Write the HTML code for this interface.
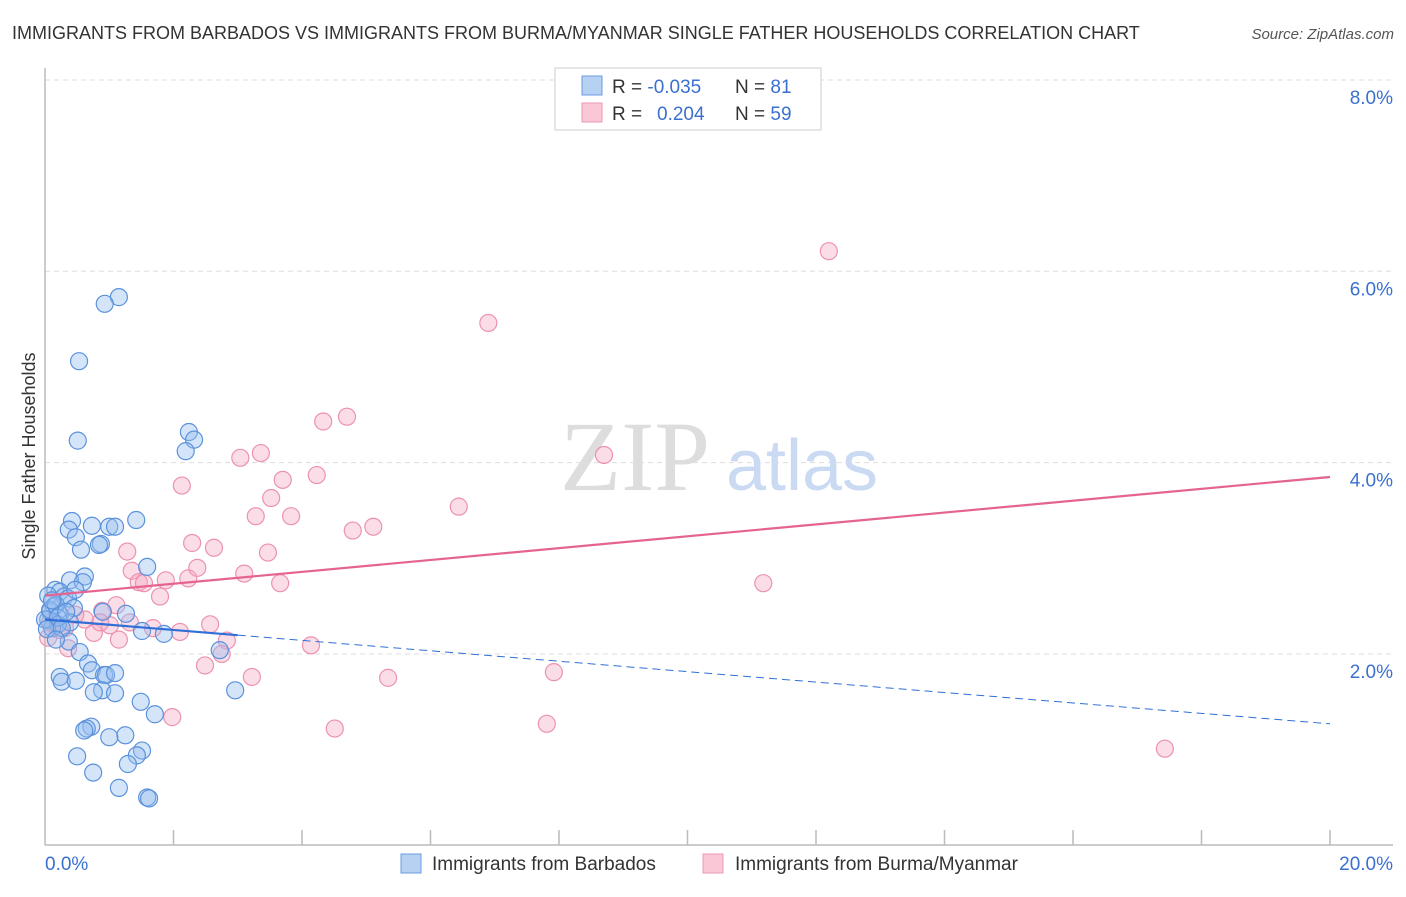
<!DOCTYPE html>
<html><head><meta charset="utf-8"><style>
body{margin:0;background:#fff;font-family:"Liberation Sans",sans-serif}
svg text{font-family:"Liberation Sans",sans-serif}
</style></head><body>
<svg width="1406" height="892" viewBox="0 0 1406 892" xmlns="http://www.w3.org/2000/svg">
<text x="12" y="39" font-size="18" fill="#333">IMMIGRANTS FROM BARBADOS VS IMMIGRANTS FROM BURMA/MYANMAR SINGLE FATHER HOUSEHOLDS CORRELATION CHART</text>
<text x="1394" y="39" font-size="15" fill="#555" text-anchor="end" font-style="italic">Source: ZipAtlas.com</text>
<text x="35" y="456" font-size="18" fill="#333" text-anchor="middle" transform="rotate(-90 35 456)">Single Father Households</text>
<g id="grid"></g>
<g id="yticks"></g>
<line x1="45" y1="68" x2="45" y2="845" stroke="#bbb" stroke-width="1.5"/>
<line x1="45" y1="845" x2="1393" y2="845" stroke="#bbb" stroke-width="1.5"/>
<g id="xticks"></g>
<text x="45" y="870" font-size="19" fill="#3a70d0">0.0%</text>
<text x="1393" y="870" font-size="19" fill="#3a70d0" text-anchor="end">20.0%</text>
<g>
<text x="635" y="490" font-size="100" fill="#ddd" text-anchor="middle" font-family="Liberation Serif,serif" style="font-family:'Liberation Serif',serif">ZIP</text>
<text x="802" y="490" font-size="72" fill="#c9daf2" text-anchor="middle">atlas</text>
</g>
<g id="pts"></g>
<g id="lines"></g>
<g>
<rect x="555" y="68" width="266" height="62" fill="#fff" stroke="#ccc"/>
<rect x="582" y="76" width="20" height="19" fill="#b7d1f3" stroke="#6a9be0"/>
<rect x="582" y="103" width="20" height="19" fill="#f9c7d5" stroke="#ec9ab3"/>
<text x="612" y="93" font-size="19" fill="#333">R = <tspan fill="#3a70d0">-0.035</tspan></text>
<text x="735" y="93" font-size="19" fill="#333">N = <tspan fill="#3a70d0">81</tspan></text>
<text x="612" y="120" font-size="19" fill="#333">R = <tspan fill="#3a70d0" x="657">0.204</tspan></text>
<text x="735" y="120" font-size="19" fill="#333">N = <tspan fill="#3a70d0">59</tspan></text>
</g>
<g>
<rect x="401" y="854" width="20" height="19" fill="#b7d1f3" stroke="#6a9be0"/>
<text x="432" y="870" font-size="19" fill="#333">Immigrants from Barbados</text>
<rect x="703" y="854" width="20" height="19" fill="#f9c7d5" stroke="#ec9ab3"/>
<text x="735" y="870" font-size="19" fill="#333">Immigrants from Burma/Myanmar</text>
</g>
</svg>
<script>
const yTicks=[2,4,6,8];
const yTickLabels=["2.0%","4.0%","6.0%","8.0%"];
const xTicks=[1,2,3,4,5,6,7,8,9,10];
const blueX=[1.15,0.93,0.53,0.51,2.24,2.32,2.19,1.42,0.42,0.37,0.73,1.00,1.09,0.48,0.87,0.84,0.56,1.59,0.62,0.39,0.59,0.16,0.23,0.05,0.30,0.36,0.14,0.45,0.90,1.26,0.08,0.23,0.05,0.39,0.20,0.11,1.51,1.85,0.37,0.54,2.72,0.67,0.73,0.92,0.95,1.09,0.23,0.26,0.48,0.89,0.76,1.09,2.96,1.49,1.71,0.72,0.65,0.61,1.25,1.00,1.51,1.43,0.50,1.29,0.75,1.15,1.59,1.62,0.0,0.08,0.17,0.03,0.2,0.33,0.11,0.26,0.47,0.17];
const blueY=[5.73,5.66,5.06,4.23,4.32,4.24,4.12,3.40,3.39,3.30,3.34,3.33,3.33,3.22,3.15,3.14,3.09,2.91,2.81,2.77,2.75,2.67,2.65,2.61,2.60,2.58,2.50,2.48,2.44,2.42,2.44,2.41,2.36,2.33,2.31,2.27,2.24,2.21,2.13,2.02,2.04,1.90,1.83,1.78,1.78,1.80,1.76,1.71,1.72,1.62,1.60,1.59,1.62,1.50,1.37,1.24,1.22,1.20,1.15,1.13,0.99,0.94,0.93,0.85,0.76,0.60,0.50,0.49,2.36,2.46,2.51,2.26,2.38,2.44,2.56,2.27,2.67,2.15];
const pinkX=[12.20,6.90,4.70,4.33,8.70,3.36,3.04,3.70,4.23,2.13,3.52,3.28,3.83,6.44,5.11,4.79,2.29,2.63,1.28,3.47,1.35,3.10,1.88,1.46,2.23,3.66,1.54,2.37,11.18,1.79,1.11,0.89,1.32,2.57,1.68,2.10,0.76,1.15,2.83,2.75,4.14,2.49,3.22,5.34,7.92,1.98,4.51,7.81,17.43,0.36,0.62,0.16,0.47,0.23,0.05,0.31,1.01,0.86,0.08];
const pinkY=[6.21,5.46,4.48,4.43,4.08,4.10,4.05,3.82,3.87,3.76,3.63,3.44,3.44,3.54,3.33,3.29,3.16,3.11,3.07,3.06,2.87,2.84,2.77,2.75,2.79,2.74,2.74,2.90,2.74,2.60,2.51,2.45,2.33,2.31,2.27,2.23,2.22,2.15,2.14,2.00,2.09,1.88,1.76,1.75,1.81,1.34,1.22,1.27,1.01,2.06,2.36,2.30,2.41,2.25,2.17,2.27,2.30,2.33,2.33];
const pinkTrend=[2.61,3.85];
const blueTrend=[2.36,1.27];
const NS="http://www.w3.org/2000/svg";
const sx=v=>45+v*64.25, sy=v=>845.3-v*95.67;
function mk(tag,attrs,parent){const e=document.createElementNS(NS,tag);for(const k in attrs)e.setAttribute(k,attrs[k]);parent.appendChild(e);return e;}
const grid=document.getElementById('grid'),yt=document.getElementById('yticks'),xt=document.getElementById('xticks');
yTicks.forEach((t,i)=>{
 const l=mk('line',{x1:45,x2:1393,y1:sy(t),y2:sy(t),stroke:'#ddd','stroke-dasharray':'5,4'},grid);
 
 
 const tx=mk('text',{x:1393,y:sy(t)+24,'font-size':19,fill:'#3a70d0','text-anchor':'end'},yt);
 tx.textContent=yTickLabels[i];
 
 
});
xTicks.forEach(t=>{
 const l=mk('line',{x1:sx(t*2),x2:sx(t*2),y1:830,y2:845,stroke:'#bbb','stroke-width':1.5},xt);
 
 
});
const pts=document.getElementById('pts');


pinkX.forEach((x,i)=>{
 const c=mk('circle',{cx:sx(x),cy:sy(pinkY[i]),r:8.5,fill:'rgba(244,170,195,0.4)',stroke:'#ec92b0','stroke-width':1.2},pts);
 
 
});
blueX.forEach((x,i)=>{
 const c=mk('circle',{cx:sx(x),cy:sy(blueY[i]),r:8.5,fill:'rgba(150,190,240,0.4)',stroke:'#5b92dc','stroke-width':1.2},pts);
 
 
});
const ln=document.getElementById('lines');
const p=mk('line',{x1:sx(0),y1:sy(pinkTrend[0]),x2:sx(20),y2:sy(pinkTrend[1]),stroke:'#e5648f','stroke-width':2.2},ln);


const bAt=x=>blueTrend[0]+(blueTrend[1]-blueTrend[0])*x/20;
const b1=mk('line',{x1:sx(0),y1:sy(bAt(0)),x2:sx(3),y2:sy(bAt(3)),stroke:'#2f6fd6','stroke-width':2.2},ln);


const b2=mk('line',{x1:sx(3),y1:sy(bAt(3)),x2:sx(20),y2:sy(bAt(20)),stroke:'#2f6fd6','stroke-width':1,'stroke-dasharray':'8,5'},ln);


</script>
</body></html>
